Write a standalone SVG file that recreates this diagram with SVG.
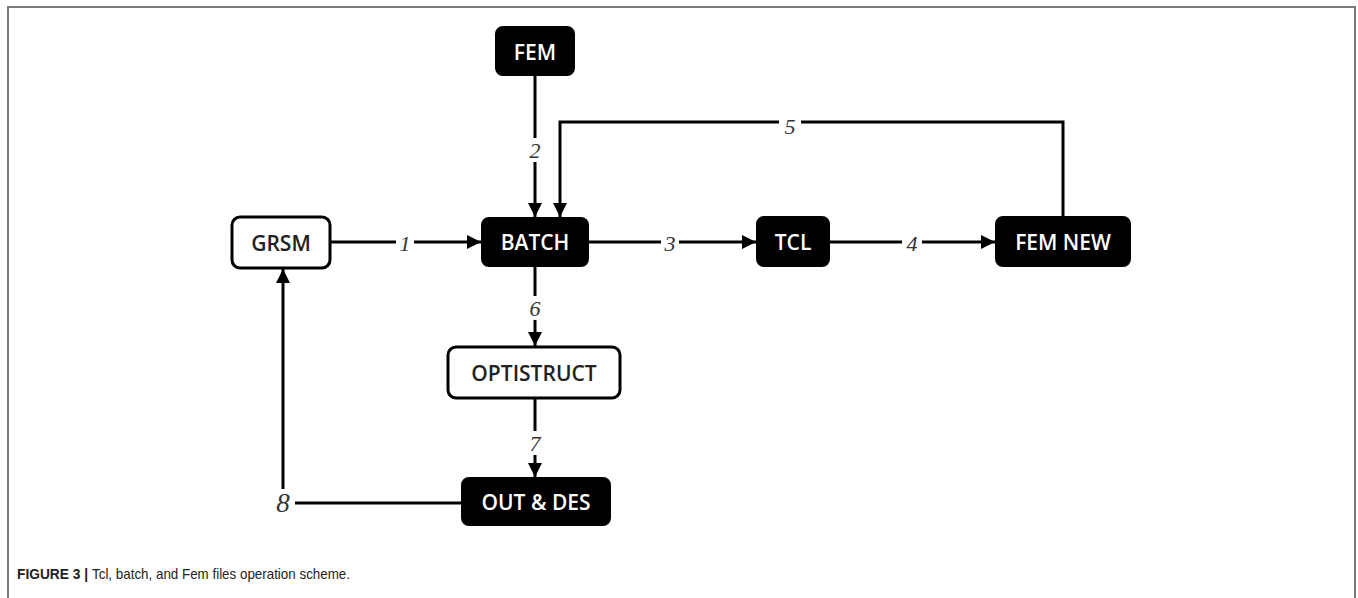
<svg xmlns="http://www.w3.org/2000/svg" width="1358" height="598" viewBox="0 0 1358 598">
<style>
.frame{fill:none;stroke:#7a7a7a;stroke-width:2}
.dark{fill:#000;stroke:#000;stroke-width:2}
.light{fill:#fff;stroke:#000;stroke-width:3}
.tl{font-family:"Open Sans","Liberation Sans",sans-serif;font-size:21px;font-weight:600;text-anchor:middle;dominant-baseline:central}
.tw{fill:#fff}
.tb{fill:#222}
.ln{fill:none;stroke:#000;stroke-width:3}
.num{font-family:"Liberation Serif","DejaVu Serif",serif;font-style:italic;font-size:22px;fill:#333;text-anchor:middle;dominant-baseline:central}
.bg{fill:#fff}
.cap{font-family:"Liberation Sans",Arial,sans-serif;font-size:15px;fill:#222}
</style>
<defs>
<marker id="ah" viewBox="0 0 14 14" refX="14" refY="7" markerWidth="14" markerHeight="14" markerUnits="userSpaceOnUse" orient="auto">
<path d="M0,0 L14,7 L0,14 Z" fill="#000"/>
</marker>
</defs>
<rect width="1358" height="598" fill="#fff"/>
<path class="frame" d="M8,600 L8,7 L1355,7 L1355,600"/>
<g id="connectors">
<line class="ln" x1="535" y1="75" x2="535" y2="217" marker-end="url(#ah)"/>
<line class="ln" x1="330" y1="242" x2="481" y2="242" marker-end="url(#ah)"/>
<line class="ln" x1="588" y1="242" x2="756" y2="242" marker-end="url(#ah)"/>
<line class="ln" x1="829" y1="242" x2="995" y2="242" marker-end="url(#ah)"/>
<polyline class="ln" points="1063,217 1063,122 560,122 560,217" marker-end="url(#ah)"/>
<line class="ln" x1="535" y1="266" x2="535" y2="346" marker-end="url(#ah)"/>
<line class="ln" x1="535" y1="398" x2="535" y2="477" marker-end="url(#ah)"/>
<line class="ln" x1="462" y1="503" x2="295" y2="503"/>
<line class="ln" x1="283" y1="489" x2="283" y2="269" marker-end="url(#ah)"/>
<rect class="bg" x="525" y="138" width="20" height="24"/>
<text class="num" x="535" y="150">2</text>
<rect class="bg" x="396" y="230" width="18" height="24"/>
<text class="num" x="405" y="243">1</text>
<rect class="bg" x="661" y="230" width="18" height="24"/>
<text class="num" x="670" y="243">3</text>
<rect class="bg" x="902" y="230" width="20" height="24"/>
<text class="num" x="912" y="243">4</text>
<rect class="bg" x="779" y="111" width="22" height="24"/>
<text class="num" x="790" y="126">5</text>
<rect class="bg" x="526" y="296" width="18" height="24"/>
<text class="num" x="535" y="308">6</text>
<rect class="bg" x="526" y="431" width="18" height="24"/>
<text class="num" x="535" y="443">7</text>
<text class="num" x="283" y="503" style="font-size:27px">8</text>
</g>
<g id="node-fem">
<rect class="dark" x="496" y="27" width="78" height="48" rx="7"/>
<text class="tl tw" x="535" y="52">FEM</text>
</g>
<g id="node-grsm">
<rect class="light" x="232" y="217" width="98" height="51" rx="8"/>
<text class="tl tb" x="281" y="243">GRSM</text>
</g>
<g id="node-batch">
<rect class="dark" x="482" y="218" width="106" height="48" rx="7"/>
<text class="tl tw" x="535" y="242">BATCH</text>
</g>
<g id="node-tcl">
<rect class="dark" x="757" y="217" width="72" height="49" rx="7"/>
<text class="tl tw" x="793" y="242">TCL</text>
</g>
<g id="node-femnew">
<rect class="dark" x="996" y="217" width="134" height="49" rx="7"/>
<text class="tl tw" x="1063" y="242">FEM NEW</text>
</g>
<g id="node-optistruct">
<rect class="light" x="448" y="347" width="172" height="51" rx="8"/>
<text class="tl tb" x="534" y="373">OPTISTRUCT</text>
</g>
<g id="node-outdes">
<rect class="dark" x="462" y="478" width="148" height="47" rx="7"/>
<text class="tl tw" x="536" y="502">OUT &amp; DES</text>
</g>
<text class="cap" x="17" y="579" font-weight="bold" textLength="71" lengthAdjust="spacingAndGlyphs">FIGURE 3 |</text>
<text class="cap" x="92" y="579" textLength="258" lengthAdjust="spacingAndGlyphs">Tcl, batch, and Fem files operation scheme.</text>
</svg>
